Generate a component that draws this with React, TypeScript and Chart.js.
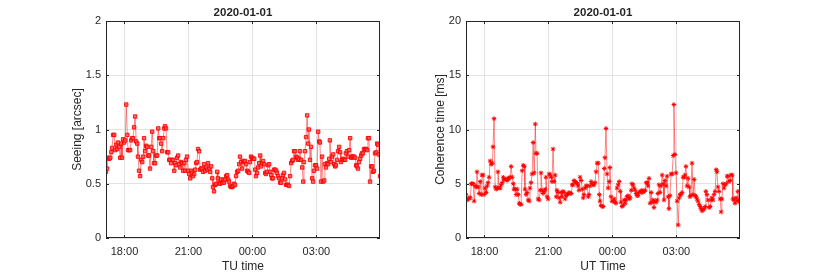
import React, { useEffect, useRef } from 'react';
import { Chart, registerables } from 'chart.js';

Chart.register(...registerables);

// Sample times, minutes after 17:00 (UT)
const timesMin = [
  8, 11, 14, 17, 20, 23, 25, 28, 31, 34, 37, 39, 42, 45, 48, 51,
  53, 56, 59, 62, 65, 68, 70, 73, 76, 79, 82, 84, 87, 90, 93, 96,
  98, 101, 104, 107, 110, 113, 115, 118, 121, 124, 127, 129, 132, 135, 138, 141,
  143, 146, 149, 152, 155, 158, 160, 163, 166, 169, 172, 174, 177, 180, 183, 186,
  188, 191, 194, 197, 200, 203, 205, 208, 211, 214, 217, 219, 222, 225, 228, 231,
  233, 236, 239, 242, 245, 248, 250, 253, 256, 259, 262, 264, 267, 270, 273, 276,
  278, 281, 284, 287, 290, 293, 295, 298, 301, 304, 307, 309, 312, 315, 318, 321,
  323, 326, 329, 332, 335, 338, 340, 343, 346, 349, 352, 354, 357, 360, 363, 366,
  368, 371, 374, 377, 380, 383, 385, 388, 391, 394, 397, 399, 402, 405, 408, 411,
  413, 416, 419, 422, 425, 428, 430, 433, 436, 439, 442, 444, 447, 450, 453, 456,
  458, 461, 464, 467, 470, 473, 475, 478, 481, 484, 487, 489, 492, 495, 498, 501,
  503, 506, 509, 512, 515, 518, 520, 523, 526, 529, 532, 534, 537, 540, 543, 546,
  548, 551, 554, 557, 560, 563, 565, 568, 571, 574, 577, 579, 582, 585, 588, 591,
  593, 596, 599, 602, 605, 608, 610, 613, 616, 619, 622, 624, 627, 630, 633, 636,
  638, 641, 644, 647, 650, 653, 655, 658, 661, 664, 667, 669, 672, 675, 678, 681,
  683, 686, 689, 692, 695, 698, 700, 703, 706, 709, 712, 714, 717, 720, 723, 726,
  728, 731, 734, 737, 740, 743, 745, 748, 751, 754, 757, 759, 762, 765, 768, 771,
  773, 776, 779,
];

// Seeing [arcsec]
const seeing = [
  0.61, 0.64, 0.74, 0.73, 0.74, 0.79, 0.83, 0.95, 0.95, 0.81,
  0.86, 0.82, 0.88, 0.84, 0.74, 0.87, 0.74, 0.91, 0.88, 0.90,
  1.23, 0.95, 0.81, 0.81, 0.81, 0.90, 0.92, 0.92, 1.02, 1.12,
  0.89, 0.87, 0.75, 0.62, 0.57, 0.72,
  0.70, 0.75, 0.92, 0.80, 0.85, 0.84, 0.76, 0.76, 0.64, 0.84,
  0.98, 0.80, 0.69, 0.69, 0.76, 0.76, 1.01, 0.92, 0.92, 0.87,
  0.80, 0.92, 1.01, 1.03, 1.01, 0.79, 0.79, 0.72, 0.72, 0.69,
  0.72, 0.72, 0.62, 0.69, 0.67, 0.74, 0.76, 0.68, 0.65, 0.70,
  0.69, 0.62, 0.69, 0.62, 0.72, 0.75, 0.62, 0.59, 0.55, 0.62,
  0.60, 0.57, 0.59, 0.63, 0.69, 0.70, 0.82, 0.80, 0.63, 0.64,
  0.64, 0.61, 0.68, 0.62, 0.65, 0.63, 0.69, 0.64, 0.61, 0.66,
  0.55, 0.47, 0.43, 0.49, 0.50, 0.61, 0.55, 0.51, 0.50, 0.54,
  0.51, 0.53, 0.51, 0.54, 0.57, 0.58, 0.54, 0.52, 0.48, 0.47,
  0.47, 0.48, 0.50, 0.49, 0.57, 0.61, 0.62, 0.68, 0.75, 0.70,
  0.64, 0.71, 0.70, 0.71, 0.68, 0.62, 0.61, 0.60, 0.70, 0.75,
  0.74, 0.73, 0.73, 0.63, 0.57, 0.60, 0.65, 0.69, 0.76, 0.66,
  0.69, 0.71, 0.68, 0.60, 0.59, 0.61, 0.67, 0.68, 0.61, 0.58,
  0.55, 0.55, 0.63, 0.63, 0.62, 0.60, 0.57, 0.55, 0.51, 0.51,
  0.55, 0.58, 0.60, 0.54, 0.49, 0.49, 0.49, 0.48, 0.57, 0.69,
  0.71, 0.72, 0.80, 0.80, 0.75, 0.74, 0.72, 0.73, 0.80, 0.72,
  0.65, 0.52, 0.70, 0.80, 0.93, 1.13, 0.87, 1.00, 0.72, 0.84,
  0.55, 0.52, 0.62, 0.67, 0.67, 0.64, 0.98, 0.89, 0.88, 0.52,
  0.75, 0.52, 0.53, 0.68, 0.65, 0.69, 0.68, 0.73, 0.90, 0.70,
  0.75, 0.77, 0.68, 0.66, 0.67, 0.72, 0.80, 0.84, 0.79, 0.70,
  0.72, 0.73, 0.72, 0.72, 0.78, 0.80, 0.75, 0.81, 0.92, 0.74,
  0.75, 0.75, 0.75, 0.74, 0.67, 0.66, 0.64, 0.70, 0.73, 0.76,
  0.78, 0.78, 0.82, 0.82, 0.82, 0.81, 0.92, 0.92, 0.52, 0.66,
  0.66, 0.61, 0.62, 0.78, 0.79, 0.87, 0.86, 0.77, 0.57,
];

// Coherence time [ms]
const coherence = [
  4.0, 3.5, 3.6, 3.7, 3.7, 5.0, 5.0, 5.0, 3.4, 4.8,
  4.7, 6.1, 4.7, 4.1, 5.2, 4.0, 5.8, 5.8, 4.0, 4.6,
  4.2, 4.8, 5.1, 5.6, 7.1, 6.8, 6.9, 8.4, 11.0,
  4.7, 4.5, 4.6, 6.1, 4.6, 4.6, 4.9, 5.1, 5.6, 5.4, 5.4,
  5.4, 5.3, 5.5, 5.5,
  5.6, 6.6, 5.6, 5.0, 4.5, 4.5, 4.0, 4.5, 4.0, 3.2, 3.1, 3.1, 6.2, 6.7, 6.6, 4.5, 4.0, 4.2,
  3.5, 3.4, 4.6, 5.1, 5.9, 8.8, 6.0, 10.5,
  7.8, 7.8, 3.6, 3.5, 4.4, 6.0, 4.4, 4.1, 4.3, 4.5, 5.6, 3.8, 3.6, 5.9, 5.8, 5.6, 5.2,
  8.2,
  5.2, 5.8, 3.8, 4.4, 4.2, 3.7, 3.3, 4.2, 3.8, 4.3, 4.2, 3.6, 3.9, 4.0, 4.1, 4.2, 4.1,
  4.1, 4.9, 4.9, 5.3, 5.2, 5.1, 5.0, 4.8, 4.4, 5.6, 5.3, 4.5, 3.7, 4.0, 4.6, 4.8, 4.8,
  3.8, 4.0, 4.8, 5.2, 5.0, 4.9, 4.9, 5.1, 6.1, 6.9, 6.9, 4.0, 3.4, 3.0, 2.9, 2.9, 6.4,
  7.4, 10.1,
  5.9, 4.6, 5.2, 6.5, 3.8, 3.4, 3.4, 3.6, 3.3, 3.2, 4.6, 4.9, 5.2, 4.3, 3.3, 2.9, 3.0,
  3.5, 3.2, 3.5, 3.8, 3.9, 3.6, 3.7, 4.4, 5.0, 4.9, 4.6, 4.4, 4.1, 3.9, 3.9, 4.2, 4.3,
  4.2, 4.4, 4.2, 4.3, 4.4, 5.1, 5.1, 4.8, 5.5, 3.2, 4.2, 3.3, 3.5, 2.8, 3.4, 3.3, 3.5,
  4.1, 4.9, 4.2, 4.8, 5.8, 5.0, 3.5, 5.3, 4.8, 5.7, 3.8, 2.7, 3.9, 5.9, 5.9, 7.6,
  12.3, 7.7, 6.0, 3.4, 1.2, 3.7, 4.0, 4.0, 4.2, 5.6, 5.6, 5.8, 6.6, 4.8, 5.5, 4.7,
  3.8, 3.9, 6.9,
  4.0, 5.4, 3.9, 3.8, 3.6, 3.4, 3.1, 2.9, 2.7, 2.5,
  2.6, 2.7, 2.9, 4.3, 4.0, 3.5, 2.8, 2.9, 3.5, 3.7, 3.5, 4.0, 4.3,
  6.3, 6.1, 4.7, 4.3, 3.6, 2.4, 3.6, 5.0, 4.6, 4.9,
  5.0, 5.7, 5.7, 5.2, 5.3, 5.8, 5.8, 3.6, 3.5, 3.2,
  3.7, 3.4, 4.3, 3.5, 3.3,
];

const xTickMinutes = [60, 240, 420, 600];
const xTickLabels = ['18:00', '21:00', '00:00', '03:00'];
const seeingTicks = [0, 0.5, 1, 1.5, 2];
const coherenceTicks = [0, 5, 10, 15, 20];
const dateTitle = '2020-01-01';

const TEXT = '#262626';
const FONT = "'Liberation Sans', Arial, Helvetica, sans-serif";

function decorPlugin(title: string, xTitle: string, yTitle: string, yTitleDx: number, yTicks: number[]) {
  return {
    id: 'decor',
    afterDraw(chart: any) {
      const { ctx, chartArea: a, scales } = chart;
      ctx.save();
      ctx.strokeStyle = TEXT;
      ctx.lineWidth = 1;
      ctx.strokeRect(a.left + 0.5, a.top + 0.5, a.right - a.left - 1, a.bottom - a.top - 1);
      ctx.beginPath();
      yTicks.forEach((v) => {
        const y = Math.round(scales.y.getPixelForValue(v)) + 0.5;
        ctx.moveTo(a.left, y); ctx.lineTo(a.left + 3, y);
        ctx.moveTo(a.right - 3, y); ctx.lineTo(a.right, y);
      });
      xTickMinutes.forEach((v) => {
        const x = Math.round(scales.x.getPixelForValue(v)) + 0.5;
        ctx.moveTo(x, a.bottom); ctx.lineTo(x, a.bottom - 3);
        ctx.moveTo(x, a.top); ctx.lineTo(x, a.top + 3);
      });
      ctx.stroke();
      ctx.fillStyle = TEXT;
      ctx.textAlign = 'center';
      ctx.textBaseline = 'middle';
      const cx = (a.left + a.right) / 2;
      ctx.font = `bold 11.5px ${FONT}`;
      ctx.fillText(title, cx, a.top - 8);
      ctx.font = `12px ${FONT}`;
      ctx.fillText(xTitle, cx, a.bottom + 28.5);
      ctx.translate(a.left + yTitleDx, (a.top + a.bottom) / 2);
      ctx.rotate(-Math.PI / 2);
      ctx.fillText(yTitle, 0, 0);
      ctx.restore();
    },
  };
}

function makeConfig(p: {
  values: number[]; yTicks: number[]; xTitle: string; yTitle: string; yTitleDx: number;
  pointStyle: string; radius: number; bg: string; pbw: number;
}): any {
  return {
    type: 'line',
    data: {
      datasets: [{
        data: timesMin.map((t, i) => ({ x: t, y: p.values[i] })),
        borderColor: 'rgba(255,0,0,0.6)',
        borderWidth: 0.8,
        pointStyle: p.pointStyle,
        pointRadius: p.radius,
        pointBorderColor: '#ff0000',
        pointBackgroundColor: p.bg,
        pointBorderWidth: p.pbw,
        tension: 0,
      }],
    },
    options: {
      animation: false,
      responsive: false,
      maintainAspectRatio: false,
      events: [],
      layout: { padding: { left: 0, top: 21, right: 28, bottom: 0 } },
      plugins: { legend: { display: false }, tooltip: { enabled: false }, title: { display: false } },
      scales: {
        x: {
          type: 'linear',
          min: 8,
          max: 779,
          afterBuildTicks: (s: any) => { s.ticks = xTickMinutes.map((v) => ({ value: v })); },
          afterFit: (s: any) => { s.height = 35; },
          grid: { color: '#e2e2e2', drawTicks: false },
          border: { display: false },
          ticks: {
            padding: 7, color: TEXT, font: { size: 11, family: FONT }, maxRotation: 0, autoSkip: false,
            callback: (v: number) => { const i = xTickMinutes.indexOf(v); return i >= 0 ? xTickLabels[i] : ''; },
          },
        },
        y: {
          min: p.yTicks[0],
          max: p.yTicks[p.yTicks.length - 1],
          afterBuildTicks: (s: any) => { s.ticks = p.yTicks.map((v) => ({ value: v })); },
          afterFit: (s: any) => { s.width = 106; },
          grid: { color: '#e2e2e2', drawTicks: false },
          border: { display: false },
          ticks: { padding: 5, color: TEXT, font: { size: 11, family: FONT }, callback: (v: number) => String(v) },
        },
      },
    },
    plugins: [decorPlugin(dateTitle, p.xTitle, p.yTitle, p.yTitleDx, p.yTicks)],
  };
}

function ChartCanvas({ cfg, left }: { cfg: () => any; left: number }) {
  const ref = useRef<HTMLCanvasElement>(null);
  useEffect(() => {
    if (!ref.current) return;
    const chart = new Chart(ref.current, cfg());
    return () => chart.destroy();
  }, []);
  return (
    <canvas ref={ref} width={408} height={273}
      style={{ position: 'absolute', left, top: 0, width: 408, height: 273 }} />
  );
}

export default function App() {
  return (
    <div style={{ position: 'absolute', left: 0, top: 0, width: 817, height: 273, background: '#fff', overflow: 'hidden' }}>
      <ChartCanvas left={0} cfg={() => makeConfig({
        values: seeing, yTicks: seeingTicks, xTitle: 'TU time', yTitle: 'Seeing [arcsec]', yTitleDx: -28,
        pointStyle: 'rect', radius: 2.4, bg: 'rgba(255,80,80,0.8)', pbw: 0.9,
      })} />
      <ChartCanvas left={360} cfg={() => makeConfig({
        values: coherence, yTicks: coherenceTicks, xTitle: 'UT Time', yTitle: 'Coherence time [ms]', yTitleDx: -25,
        pointStyle: 'star', radius: 2.3, bg: '#ff0000', pbw: 1,
      })} />
    </div>
  );
}
